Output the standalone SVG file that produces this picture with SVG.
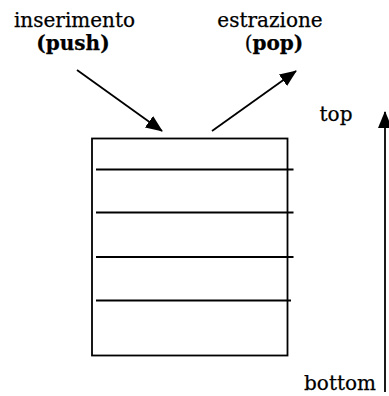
<svg xmlns="http://www.w3.org/2000/svg" width="389" height="396" viewBox="0 0 389 396">
<style>
text{font-family:"DejaVu Serif","Liberation Serif",serif;font-size:20px;fill:#000;stroke:#000;stroke-width:0.25}
.b{font-weight:bold}
.ln{stroke:#000;stroke-width:1.8;fill:none}
</style>
<defs>
<marker id="ah" markerWidth="17" markerHeight="14" refX="16" refY="7" orient="auto" markerUnits="userSpaceOnUse">
<path d="M0,0 L17,7 L0,14 Z" fill="#000"/>
</marker>
</defs>
<rect width="389" height="396" fill="#fff"/>
<g id="stack">
<rect class="ln" x="92" y="138.5" width="195.5" height="217"/>
<line class="ln" x1="96" y1="169.5" x2="293.5" y2="169.5"/>
<line class="ln" x1="96" y1="212.5" x2="293.5" y2="212.5"/>
<line class="ln" x1="96" y1="257" x2="293.5" y2="257"/>
<line class="ln" x1="96" y1="300.5" x2="291" y2="300.5"/>
</g>
<g id="push-label">
<text x="74.5" y="27" text-anchor="middle">inserimento</text>
<text x="73" y="50" text-anchor="middle" class="b">(push)</text>
</g>
<g id="pop-label">
<text x="270" y="27" text-anchor="middle">estrazione</text>
<text x="274" y="50" text-anchor="middle">(<tspan class="b">pop)</tspan></text>
</g>
<g id="top-label"><text x="336" y="121" text-anchor="middle">top</text></g>
<g id="bottom-label"><text x="340" y="390" text-anchor="middle">bottom</text></g>
<g id="connectors">
<line class="ln" x1="77" y1="70" x2="162" y2="131" marker-end="url(#ah)"/>
<line class="ln" x1="212" y1="131" x2="296" y2="71" marker-end="url(#ah)"/>
<line class="ln" x1="385" y1="392" x2="385" y2="112" marker-end="url(#ah)"/>
</g>
</svg>
